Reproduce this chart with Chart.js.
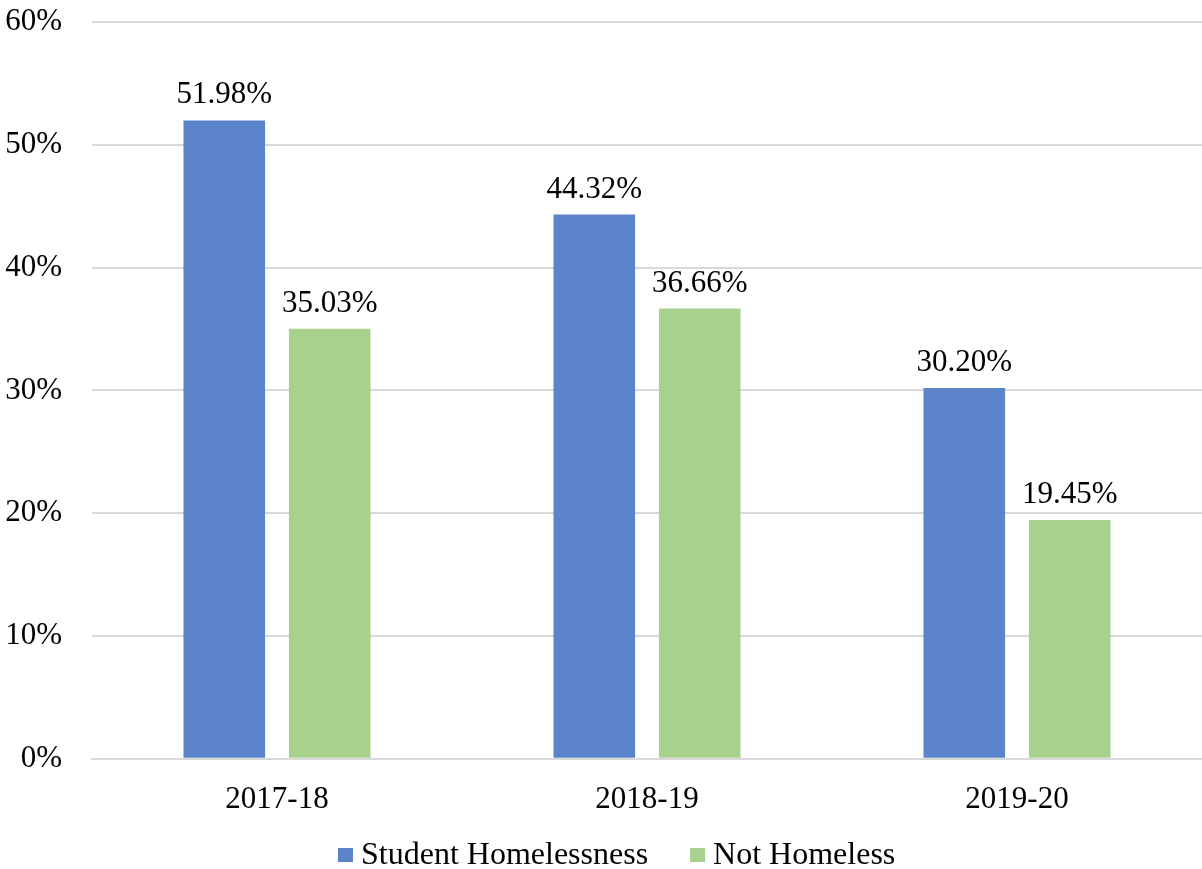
<!DOCTYPE html>
<html>
<head>
<meta charset="utf-8">
<script src="https://cdn.jsdelivr.net/npm/chart.js@4"></script>
<style>
  html, body { margin: 0; padding: 0; background: #fff; }
  #wrap { width: 1202px; height: 869px; }
</style>
</head>
<body>
<div id="wrap"><canvas id="homelessChart"></canvas></div>
<script>
// School years and rates per group
const years = ["2017-18", "2018-19", "2019-20"];
const homelessRates = [51.98, 44.32, 30.20];
const notHomelessRates = [35.03, 36.66, 19.45];
const seriesNames = ["Student Homelessness", "Not Homeless"];
const seriesColors = ["#5B84CB", "#A9D18E"];

const serif = "'Liberation Serif', 'Times New Roman', serif";

// Writes the percentage above each bar
const valueLabels = {
  id: "valueLabels",
  afterDatasetsDraw(chart) {
    const ctx = chart.ctx;
    ctx.save();
    ctx.font = "31px " + serif;
    ctx.fillStyle = "#000";
    ctx.textAlign = "center";
    ctx.textBaseline = "alphabetic";
    chart.data.datasets.forEach((ds, i) => {
      chart.getDatasetMeta(i).data.forEach((bar, j) => {
        ctx.fillText(ds.data[j].toFixed(2) + "%", bar.x, bar.y - 17);
      });
    });
    ctx.restore();
  }
};

// Compact legend row under the axis: small square, tight gap, wide spacing
const bottomLegend = {
  id: "bottomLegend",
  afterDraw(chart) {
    const ctx = chart.ctx;
    ctx.save();
    ctx.font = "32px " + serif;
    ctx.textBaseline = "middle";
    ctx.textAlign = "left";
    const boxW = 15, boxH = 14, textGap = 8, itemGap = 42;
    const items = chart.data.datasets.map(ds => ({
      text: ds.label,
      color: ds.backgroundColor,
      w: boxW + textGap + ctx.measureText(ds.label).width
    }));
    const total = items.reduce((s, it) => s + it.w, 0) + itemGap * (items.length - 1);
    let x = Math.round(chart.width / 2 + 16 - total / 2);
    const y = 855;
    items.forEach(it => {
      ctx.fillStyle = it.color;
      ctx.fillRect(x, y - boxH / 2, boxW, boxH);
      ctx.fillStyle = "#000";
      ctx.fillText(it.text, x + boxW + textGap, y + 1);
      x += it.w + itemGap;
    });
    ctx.restore();
  }
};

new Chart(document.getElementById("homelessChart"), {
  type: "bar",
  data: {
    labels: years,
    datasets: [
      { label: seriesNames[0], data: homelessRates, backgroundColor: seriesColors[0] },
      { label: seriesNames[1], data: notHomelessRates, backgroundColor: seriesColors[1] }
    ]
  },
  options: {
    responsive: true,
    maintainAspectRatio: false,
    animation: false,
    categoryPercentage: 0.57,
    barPercentage: 0.774,
    layout: { padding: { top: 22, right: 0, left: 0, bottom: 29 } },
    scales: {
      x: {
        grid: { display: false, drawTicks: false },
        border: { display: true, color: "#d9d9d9", width: 2 },
        ticks: { color: "#000", font: { family: serif, size: 31 }, padding: 22 }
      },
      y: {
        min: 0,
        max: 60,
        afterFit(scale) { scale.width = 92; },
        grid: { color: "#d9d9d9", lineWidth: 2, drawTicks: true, tickLength: 30, tickColor: "transparent" },
        border: { display: false },
        ticks: {
          stepSize: 10,
          padding: 0,
          color: "#000",
          font: { family: serif, size: 31 },
          callback: v => v + "%"
        }
      }
    },
    plugins: {
      legend: { display: false },
      tooltip: { enabled: false }
    }
  },
  plugins: [valueLabels, bottomLegend]
});
</script>
</body>
</html>
